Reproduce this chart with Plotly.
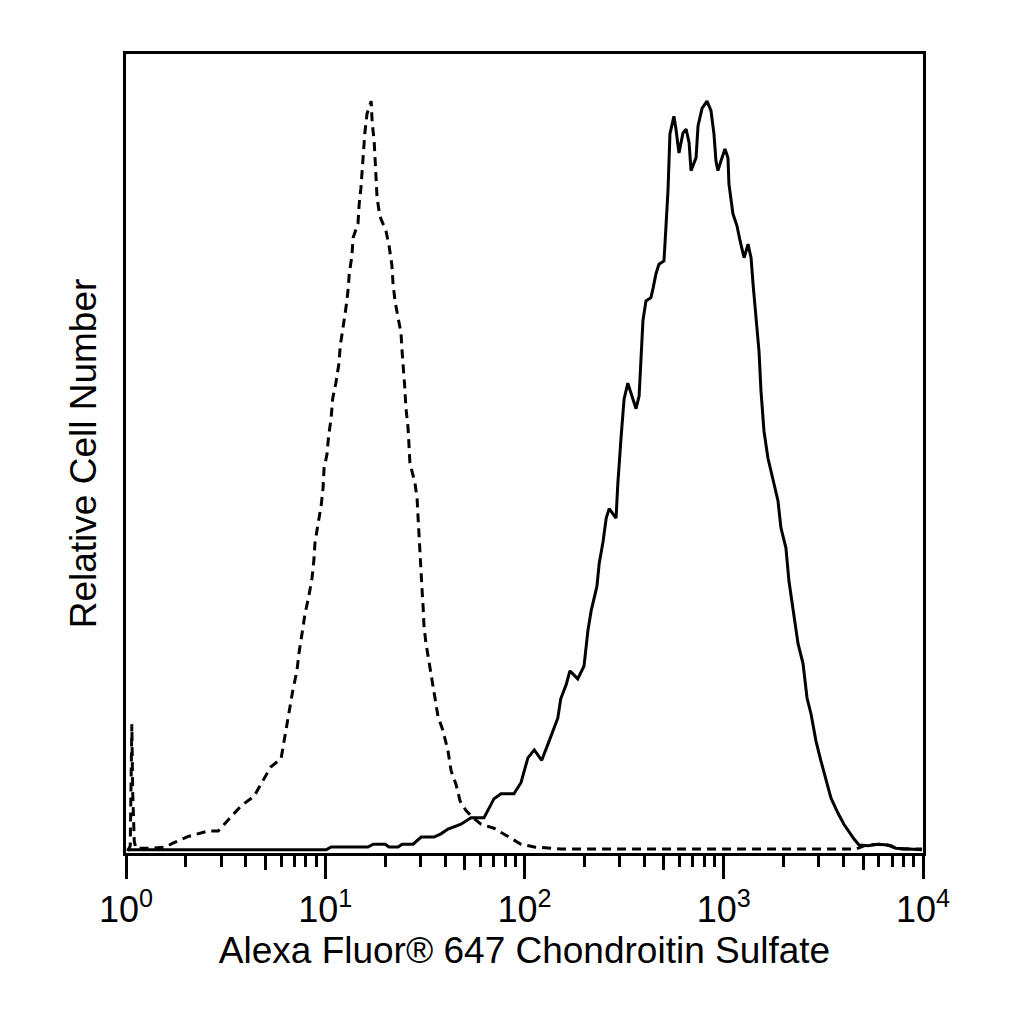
import plotly.graph_objects as go

# isotype control (dashed)
iso_x = [1.02, 1.05, 1.07, 1.08, 1.10, 1.12, 1.33, 1.59, 1.72, 2.07, 2.58, 2.90, 3.29, 3.78,
         4.39, 4.93, 5.34, 6.00, 6.21, 6.43, 6.65, 6.89, 7.21, 7.38, 7.64, 7.91, 8.28, 8.58,
         8.78, 8.88, 9.20, 9.53, 9.75, 9.86, 10.2, 10.4, 10.7, 10.9, 11.3, 11.7, 11.9, 12.3,
         12.7, 13.0, 13.2, 13.6, 13.8, 14.6, 14.8, 15.1, 15.3, 15.6, 15.8, 16.2, 17.0,
         17.2, 17.6, 17.8, 18.0, 18.2, 18.8, 20.2, 20.9, 21.6, 21.9, 22.4, 23.2, 24.0, 24.3,
         24.8, 25.1, 25.4, 26.0, 26.3, 26.6, 28.2, 28.9, 29.2, 29.5, 29.9, 30.3, 30.6, 31.0,
         31.3, 32.0, 33.2, 34.3, 35.5, 36.8, 39.0, 41.3, 42.8, 45.3, 47.5, 50.9, 55.8, 60.5,
         70.3, 82.7, 96.0, 112, 152, 769, 4610, 5180, 6150, 6900, 7480, 9890]
iso_y = [0.25, 0.9, 16.1, 7.8, 1.5, 0.6, 0.6, 0.75, 1.25, 2.1, 2.75, 2.75, 4.25, 5.9,
         7.1, 9.3, 10.8, 11.8, 14.0, 16.1, 18.1, 20.5, 22.8, 25.0, 27.4, 29.9, 32.2, 34.4,
         36.8, 38.8, 41.2, 43.4, 45.7, 48.1, 49.9, 52.2, 54.4, 56.9, 58.8, 61.2, 63.5, 65.7,
         68.2, 70.3, 72.5, 74.7, 77.0, 78.8, 81.2, 83.2, 85.6, 87.9, 90.1, 92.5, 94.1,
         91.4, 89.1, 86.7, 84.5, 82.0, 79.7, 77.8, 76.0, 73.6, 71.2, 69.1, 67.0, 65.1, 62.8,
         60.3, 58.1, 55.7, 53.4, 51.2, 48.8, 46.3, 44.4, 42.2, 39.9, 37.5, 35.3, 33.0, 30.7,
         28.4, 26.3, 24.0, 21.8, 19.4, 17.1, 15.3, 12.8, 10.3, 8.6, 6.5, 5.3, 4.3, 3.6,
         3.1, 2.1, 1.1, 0.75, 0.5, 0.5, 0.5, 1.0, 1.1, 0.9, 0.5, 0.5]

# chondroitin sulfate stain (solid)
cs_x = [1.01, 2.38, 10.1, 10.7, 16.4, 17.4, 20.0, 20.9, 23.2, 24.3, 27.6, 30.3, 35.1, 38.1,
        41.3, 48.0, 53.9, 62.6, 65.6, 70.3, 76.2, 88.5, 96.0, 104, 112, 122, 131, 139, 147,
        152, 162, 169, 185, 199, 204, 208, 216, 223, 231, 237, 248, 257, 266, 288, 294, 305,
        316, 330, 363, 376, 384, 393, 407, 431, 442, 457, 473, 501, 507, 525, 537, 562, 575,
        596, 624, 647, 670, 685, 726, 743, 778, 824, 863, 893, 914, 935, 968, 1014, 1050,
        1062, 1112, 1165, 1208, 1265, 1324, 1371, 1403, 1452, 1503, 1538, 1592, 1667, 1766,
        1871, 1936, 2051, 2125, 2228, 2360, 2500, 2618, 2742, 2904, 3076, 3259, 3451, 3741,
        4009, 4508, 4775, 5297, 5943, 6668, 7311, 9890]
cs_y = [0.4, 0.4, 0.4, 0.75, 0.75, 1.1, 1.1, 0.75, 0.75, 1.1, 1.1, 2.0, 2.0, 2.4,
        3.0, 3.6, 4.4, 4.4, 5.3, 6.8, 7.4, 7.4, 8.8, 11.9, 12.9, 11.6, 13.6, 15.3, 16.9,
        19.3, 21.1, 22.8, 21.8, 23.4, 25.7, 27.8, 30.3, 31.9, 33.4, 36.2, 39.0, 41.9, 43.1, 41.9, 46.2, 51.9,
        56.8, 58.8, 55.6, 57.2, 61.6, 66.6, 69.1, 69.5, 70.7, 72.5, 73.7, 74.1, 76.2, 82.9, 90.0, 92.2, 90.7,
        87.6, 90.1, 90.6, 88.9, 85.4, 87.0, 91.0, 93.2, 94.1, 92.9, 90.0, 86.6, 85.4, 86.6, 88.1, 87.0,
        83.7, 80.0, 78.5, 76.6, 74.5, 76.2, 74.5, 71.2, 67.0, 62.8, 57.8, 52.8, 49.4, 46.6,
        44.1, 40.7, 38.2, 34.0, 30.7, 26.2, 23.7, 19.4, 17.4, 14.0, 11.5, 9.0, 6.9, 5.0,
        3.6, 1.75, 1.0, 0.9, 1.1, 1.0, 0.6, 0.4]

decades = [1, 10, 100, 1000, 10000]
decade_labels = ["10<sup>0</sup>", "10<sup>1</sup>", "10<sup>2</sup>", "10<sup>3</sup>", "10<sup>4</sup>"]
halves = [5, 50, 500, 5000]

fig = go.Figure()
fig.add_trace(go.Scatter(x=iso_x, y=iso_y, mode="lines",
                         line=dict(color="black", width=3, dash="9px,6px")))
fig.add_trace(go.Scatter(x=cs_x, y=cs_y, mode="lines",
                         line=dict(color="black", width=3)))
# invisible trace so the second x axis (longer ticks at 5s) gets drawn
fig.add_trace(go.Scatter(x=[1, 10000], y=[0, 0], xaxis="x2", mode="lines",
                         line=dict(width=0), hoverinfo="skip"))

font = "Liberation Sans, Arial, sans-serif"
fig.update_layout(
    width=1024, height=1024,
    margin=dict(l=118, r=109, t=46, b=179),
    paper_bgcolor="white", plot_bgcolor="white",
    showlegend=False,
    font=dict(family=font, color="black", size=37),
    xaxis=dict(type="log", range=[0, 4], showgrid=False, zeroline=False,
               showline=True, linecolor="black", linewidth=3, mirror=True,
               ticks="outside", ticklen=23, tickwidth=3, tickcolor="black",
               tickvals=decades, ticktext=decade_labels,
               tickfont=dict(size=36),
               minor=dict(ticks="outside", ticklen=11, tickwidth=3, tickcolor="black",
                          dtick="D1", showgrid=False),
               title=dict(text="Alexa Fluor® 647 Chondroitin Sulfate",
                          font=dict(size=37), standoff=4)),
    xaxis2=dict(type="log", range=[0, 4], overlaying="x", side="bottom",
                showgrid=False, zeroline=False, showline=False,
                ticks="outside", ticklen=16, tickwidth=3, tickcolor="black",
                tickvals=halves, showticklabels=False),
    yaxis=dict(range=[0, 100], showgrid=False, zeroline=False,
               showline=True, linecolor="black", linewidth=3, mirror=True,
               ticks="", showticklabels=False,
               title=dict(text="Relative Cell Number", font=dict(size=37), standoff=16)),
)

fig.write_html("out.html")
